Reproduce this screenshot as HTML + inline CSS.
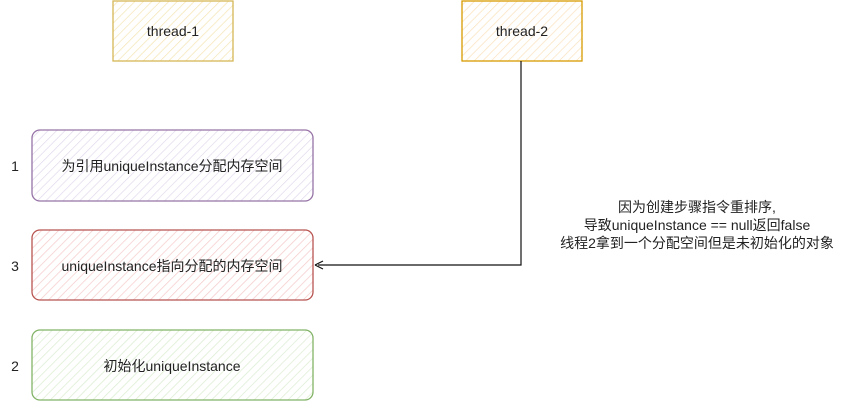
<!DOCTYPE html>
<html><head><meta charset="utf-8"><style>
html,body{margin:0;padding:0;background:#fff;}
svg text{font-family:"Liberation Sans","Noto Sans CJK SC",sans-serif;font-size:14px;fill:#222;}
</style></head><body>
<svg width="843" height="401" viewBox="0 0 843 401" xmlns="http://www.w3.org/2000/svg">
<defs>
<pattern id="hy" width="6" height="6" patternUnits="userSpaceOnUse" patternTransform="rotate(45)"><line x1="0" y1="0" x2="0" y2="6" stroke="#f5e6b8" stroke-width="1.5"/></pattern>
<pattern id="ho" width="6" height="6" patternUnits="userSpaceOnUse" patternTransform="rotate(45)"><line x1="0" y1="0" x2="0" y2="6" stroke="#fbe3c0" stroke-width="1.5"/></pattern>
<pattern id="hp" width="6" height="6" patternUnits="userSpaceOnUse" patternTransform="rotate(45)"><line x1="0" y1="0" x2="0" y2="6" stroke="#e4dbee" stroke-width="1.5"/></pattern>
<pattern id="hr" width="6" height="6" patternUnits="userSpaceOnUse" patternTransform="rotate(45)"><line x1="0" y1="0" x2="0" y2="6" stroke="#f6cccc" stroke-width="1.5"/></pattern>
<pattern id="hg" width="6" height="6" patternUnits="userSpaceOnUse" patternTransform="rotate(45)"><line x1="0" y1="0" x2="0" y2="6" stroke="#dcedd2" stroke-width="1.5"/></pattern>
</defs>
<rect x="113" y="1" width="120" height="60" fill="url(#hy)" stroke="#d6b656" stroke-width="1.3"/>
<text x="173" y="36" text-anchor="middle">thread-1</text>
<rect x="462" y="1" width="120" height="60" fill="url(#ho)" stroke="#d79b00" stroke-width="1.3"/>
<text x="522" y="36" text-anchor="middle">thread-2</text>
<rect x="32" y="130" width="281" height="71" rx="8" fill="url(#hp)" stroke="#9673a6" stroke-width="1.3"/>
<text x="172" y="171" text-anchor="middle">为引用uniqueInstance分配内存空间</text>
<rect x="32" y="230" width="281" height="70" rx="8" fill="url(#hr)" stroke="#b85450" stroke-width="1.3"/>
<text x="172" y="271" text-anchor="middle">uniqueInstance指向分配的内存空间</text>
<rect x="32" y="330" width="281" height="70" rx="8" fill="url(#hg)" stroke="#82b366" stroke-width="1.3"/>
<text x="172" y="371" text-anchor="middle">初始化uniqueInstance</text>
<text x="15" y="171" text-anchor="middle">1</text>
<text x="15" y="271" text-anchor="middle">3</text>
<text x="15" y="371" text-anchor="middle">2</text>
<path d="M521 61 L521 265 L318 265" fill="none" stroke="#111" stroke-width="1.2"/>
<path d="M315 265 L323 261 M315 265 L323 269" stroke="#111" stroke-width="1.2" fill="none"/>
<text x="697" y="212" text-anchor="middle">因为创建步骤指令重排序,</text>
<text x="697" y="230" text-anchor="middle">导致uniqueInstance == null返回false</text>
<text x="697" y="248" text-anchor="middle">线程2拿到一个分配空间但是未初始化的对象</text>
</svg>
</body></html>
